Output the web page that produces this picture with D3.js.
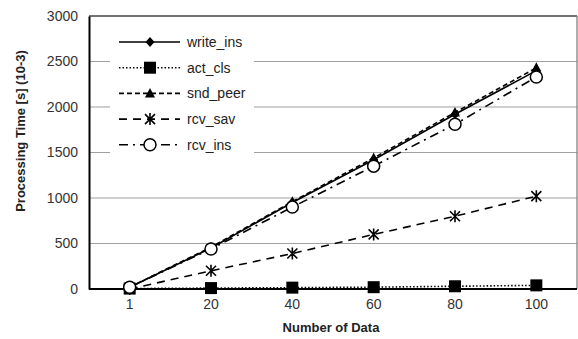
<!DOCTYPE html>
<html><head><meta charset="utf-8">
<script src="https://cdn.jsdelivr.net/npm/d3@7"></script>
<style>body{margin:0;background:#fff}svg{display:block;font-family:"Liberation Sans",Arial,sans-serif}</style>
</head><body><svg id="c" width="578" height="339"></svg>
<script>
const categories = ["1","20","40","60","80","100"];
const writeIns = [20, 450, 950, 1420, 1920, 2400];
const actCls   = [5, 10, 15, 20, 30, 40];
const sndPeer  = [20, 460, 960, 1440, 1940, 2430];
const rcvSav   = [0, 200, 390, 600, 800, 1020];
const rcvIns   = [20, 440, 900, 1350, 1810, 2330];
const yTicks   = [0, 500, 1000, 1500, 2000, 2500, 3000];
const seriesNames = ["write_ins","act_cls","snd_peer","rcv_sav","rcv_ins"];

const series = [
  {name: seriesNames[0], values: writeIns, dash: null, marker: "diamond"},
  {name: seriesNames[1], values: actCls, dash: "1.5,2", marker: "square"},
  {name: seriesNames[2], values: sndPeer, dash: "5,3", marker: "triangle"},
  {name: seriesNames[3], values: rcvSav, dash: "8,6", marker: "star"},
  {name: seriesNames[4], values: rcvIns, dash: "9,5,2,5", marker: "circle"}
];

const svg = d3.select("#c");
const L = 89, R = 577, T = 16, B = 289;
const x = d3.scaleBand().domain(categories).range([L, R]);
const xc = c => x(c) + x.bandwidth()/2;
const y = d3.scaleLinear().domain([0, 3000]).range([B, T]);

// gridlines
svg.append("g").selectAll("line").data(yTicks.filter(d => d > 0 && d < 3000)).join("line")
  .attr("x1", L).attr("x2", R).attr("y1", d => y(d)).attr("y2", d => y(d))
  .attr("stroke", "#a0a0a0").attr("stroke-width", 1.2);
// frame
svg.append("line").attr("x1", L).attr("x2", R).attr("y1", T).attr("y2", T).attr("stroke", "#444").attr("stroke-width", 1.5);
svg.append("line").attr("x1", R).attr("x2", R).attr("y1", T).attr("y2", B).attr("stroke", "#777").attr("stroke-width", 1.2);

// legend background
svg.append("rect").attr("x", 110).attr("y", 26).attr("width", 144).attr("height", 132).attr("fill", "#fff");

// axes
const yAxis = svg.append("g").attr("transform", `translate(${L},0)`)
  .call(d3.axisLeft(y).tickValues(yTicks).tickFormat(d3.format("d")).tickSize(0).tickPadding(11));
yAxis.select(".domain").attr("stroke", "#000").attr("stroke-width", 2);
yAxis.selectAll("text").attr("font-size", 14).attr("fill", "#333").attr("font-family", "Liberation Sans, Arial, sans-serif");
const xAxis = svg.append("g").attr("transform", `translate(0,${B})`)
  .call(d3.axisBottom(x).tickSize(0).tickPadding(10));
xAxis.select(".domain").attr("stroke", "#000").attr("stroke-width", 2).attr("d", `M${L},0H${R}`);
xAxis.selectAll("text").attr("font-size", 14).attr("fill", "#333").attr("font-family", "Liberation Sans, Arial, sans-serif");

// titles
svg.append("text").attr("x", 331).attr("y", 332).attr("text-anchor", "middle")
  .attr("font-size", 13).attr("font-weight", "bold").attr("fill", "#222").text("Number of Data");
svg.append("text").attr("transform", "translate(25,131) rotate(-90)").attr("text-anchor", "middle")
  .attr("font-size", 13).attr("font-weight", "bold").attr("fill", "#222").text("Processing Time [s] (10-3)");

function drawMarker(g, type, cx, cy) {
  if (type === "diamond") {
    g.append("path").attr("d", `M${cx},${cy-5}L${cx+4.5},${cy}L${cx},${cy+5}L${cx-4.5},${cy}Z`).attr("fill", "#000");
  } else if (type === "square") {
    g.append("rect").attr("x", cx-6).attr("y", cy-6).attr("width", 12).attr("height", 12).attr("fill", "#000");
  } else if (type === "triangle") {
    g.append("path").attr("d", `M${cx},${cy-5.5}L${cx+5},${cy+4}L${cx-5},${cy+4}Z`).attr("fill", "#000");
  } else if (type === "star") {
    g.append("path").attr("d", `M${cx-5},${cy-5}L${cx+5},${cy+5}M${cx+5},${cy-5}L${cx-5},${cy+5}M${cx},${cy-6}V${cy+6}`)
      .attr("stroke", "#000").attr("stroke-width", 1.6).attr("fill", "none");
  } else if (type === "circle") {
    g.append("circle").attr("cx", cx).attr("cy", cy).attr("r", 6).attr("fill", "#fff").attr("stroke", "#000").attr("stroke-width", 1.5);
  }
}

const line = d3.line().x((d, i) => xc(categories[i])).y(d => y(d));
const order = [1, 3, 2, 0, 4];
order.forEach(k => {
  const s = series[k];
  svg.append("path").datum(s.values).attr("d", line).attr("fill", "none")
    .attr("stroke", "#000").attr("stroke-width", 1.6).attr("stroke-dasharray", s.dash);
});
order.forEach(k => {
  const s = series[k];
  const g = svg.append("g");
  s.values.forEach((v, i) => drawMarker(g, s.marker, xc(categories[i]), y(v)));
});

// legend
const leg = svg.append("g");
series.forEach((s, i) => {
  const ly = 42 + i * 25.7;
  leg.append("line").attr("x1", 119).attr("x2", 180).attr("y1", ly).attr("y2", ly)
    .attr("stroke", "#000").attr("stroke-width", 1.6).attr("stroke-dasharray", s.dash);
  drawMarker(leg, s.marker, 150, ly);
  leg.append("text").attr("x", 187).attr("y", ly + 5).attr("font-size", 14).attr("fill", "#222").text(s.name);
});
</script></body></html>
